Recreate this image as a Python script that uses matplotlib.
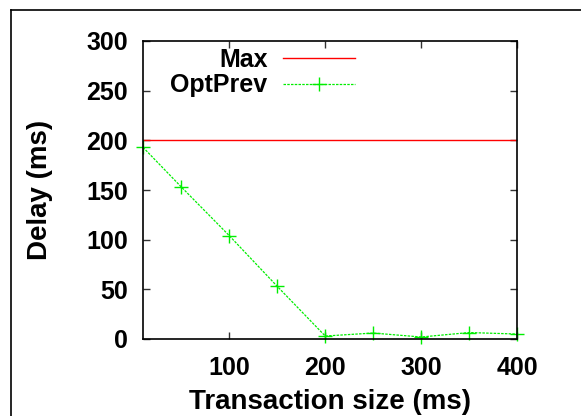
import matplotlib
matplotlib.use("Agg")
import matplotlib.pyplot as plt
from matplotlib.lines import Line2D

x_sizes = [10, 50, 100, 150, 200, 250, 300, 350, 400]
optprev = [193, 153, 104, 53, 3, 6, 2, 6.5, 5]
max_delay = 200
x_ticks = [100, 200, 300, 400]
y_ticks = [0, 50, 100, 150, 200, 250, 300]

plt.rcParams['font.family'] = ['Liberation Sans', 'DejaVu Sans']
plt.rcParams['font.weight'] = 'bold'

fig = plt.figure(figsize=(5.81, 4.16), dpi=100)
W, H = 581, 416
ax = fig.add_axes([143 / W, 1 - 339 / H, (517 - 143) / W, (339 - 41) / H])

ax.axhline(max_delay, color='#ff0000', lw=1.0, label='Max')
ax.plot(x_sizes, optprev, color='#00ee00', lw=0.9, ls=(0, (2, 1)), marker='+',
        ms=10, mew=1.0, label='OptPrev', clip_on=False)

ax.set_xlim(10, 400)
ax.set_ylim(0, 300)
ax.set_xticks(x_ticks)
ax.set_yticks(y_ticks)
ax.tick_params(direction='in', length=5, width=1, top=True, right=True,
               labelsize=18, color='#333333')
ax.tick_params(axis='y', pad=11)
ax.tick_params(axis='x', pad=12)
for lab in ax.get_xticklabels() + ax.get_yticklabels():
    lab.set_fontweight('bold')
for s in ax.spines.values():
    s.set_linewidth(1.2)

ax.set_xlabel('Transaction size (ms)', fontsize=20, fontweight='bold')
ax.xaxis.set_label_coords(0.5, (339 - 389) / 298)
ax.set_ylabel('Delay (ms)', fontsize=20, fontweight='bold')
ax.yaxis.set_label_coords((53 - 143) / 374, 0.5)

leg = ax.legend(loc='upper right', bbox_to_anchor=(355 / W, 1 - 48 / H),
                bbox_transform=fig.transFigure, frameon=False,
                markerfirst=False, fontsize=18, handlelength=2.9,
                handletextpad=0.6, labelspacing=0.05, borderaxespad=0,
                borderpad=0)

# outer border (figure frame, cropped at right and bottom)
fig.add_artist(Line2D([11 / W, 11 / W], [0, 1 - 10 / H], transform=fig.transFigure,
                      color='black', lw=1.2))
fig.add_artist(Line2D([11 / W, 1], [1 - 10 / H, 1 - 10 / H], transform=fig.transFigure,
                      color='black', lw=1.2))

fig.savefig('out.png', dpi=100)
